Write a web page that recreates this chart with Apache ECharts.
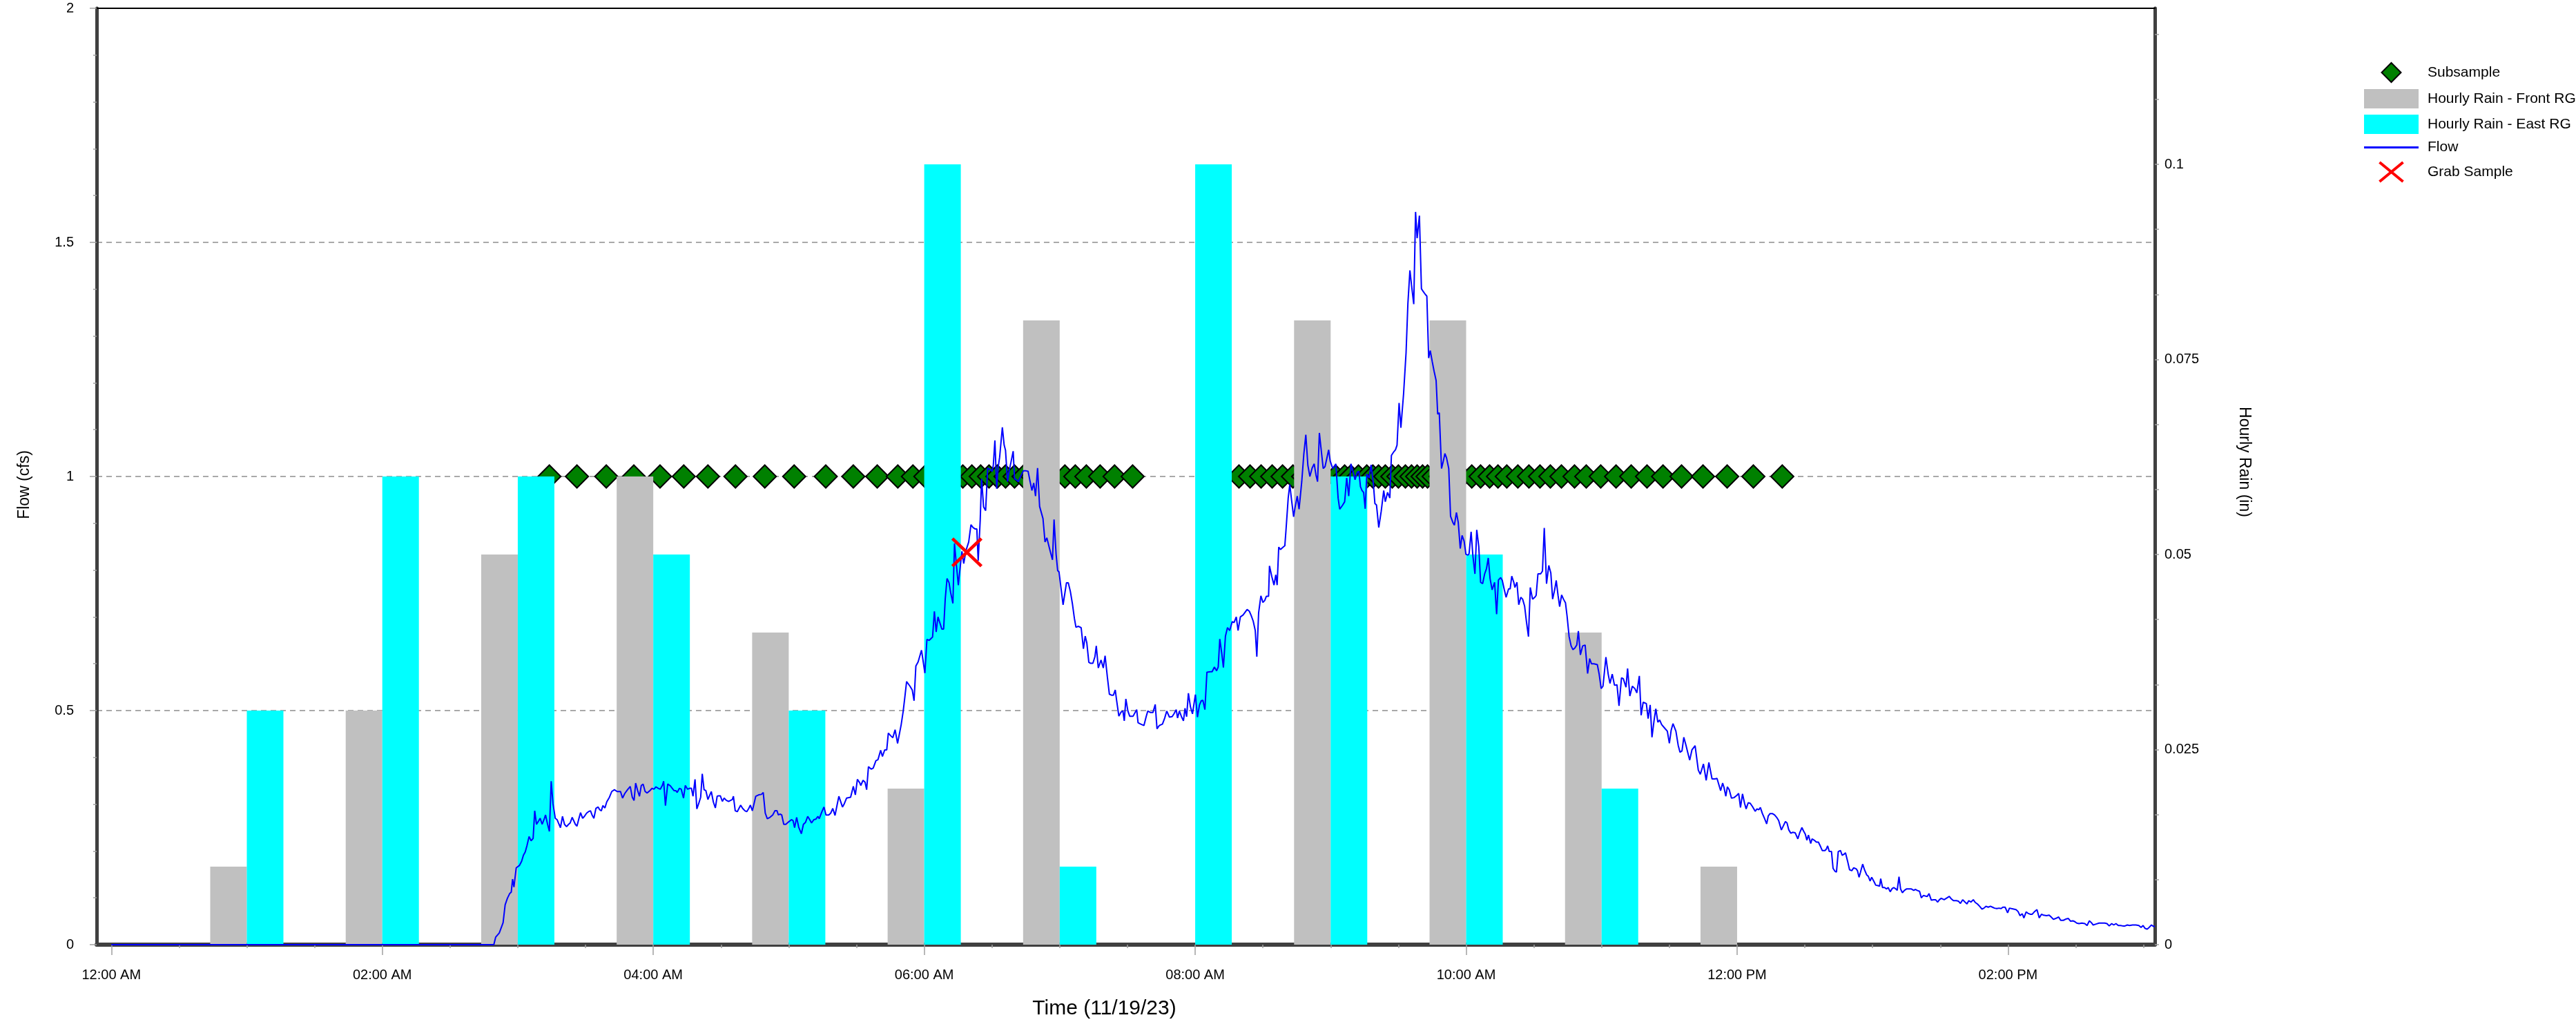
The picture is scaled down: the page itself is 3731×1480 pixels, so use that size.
<!DOCTYPE html>
<html>
<head>
<meta charset="utf-8">
<title>Flow and Hourly Rain - 11/19/23</title>
<script src="https://cdn.jsdelivr.net/npm/echarts@6/dist/echarts.min.js"></script>
<style>
    html, body { margin: 0; padding: 0; background: #ffffff; }
    #flowChart { width: 3731px; height: 1480px; }
</style>
</head>
<body>
<div id="flowChart"></div>
<script>
// hourly rain (in), one value per clock hour
var rainHours = [1, 2, 3, 4, 5, 6, 7, 8, 9, 10, 11, 12];
var rainFront = [0.01, 0.03, 0.05, 0.06, 0.04, 0.02, 0.08, 0, 0.08, 0.08, 0.04, 0.01];
var rainEast = [0.03, 0.06, 0.06, 0.05, 0.03, 0.1, 0.01, 0.1, 0.06, 0.05, 0.02, 0];

// subsample times, minutes after midnight (plotted on the 1 cfs line)
var subsampleLevel = 1;
var subsampleMinutes = [194.0, 206.2, 219.2, 231.4, 243.0, 253.5, 264.2, 276.4, 289.4, 302.4, 316.4, 328.6,
    339.2, 348.3, 355.0, 360.5, 366.1, 371.6, 377.1, 381.1, 385.0, 388.7, 392.4, 396.0, 400.0, 404.0, 408.0,
    411.9, 415.9, 422.3, 426.9, 431.8, 437.9, 444.3, 452.3, 499.4, 504.3, 509.2, 514.1, 518.7, 523.3, 527.8,
    532.4, 537.0, 542.2, 546.2, 548.9, 552.3, 556.0, 558.7, 561.2, 564.2, 567.3, 570.0, 573.1, 575.8, 578.3,
    580.7, 582.9, 585.6, 588.7, 591.7, 594.8, 597.9, 602.5, 606.4, 610.4, 614.1, 618.0, 622.9, 627.8, 632.7,
    637.3, 642.2, 648.0, 653.2, 659.6, 666.4, 673.1, 680.1, 687.2, 695.4, 704.9, 715.6, 727.2, 740.0];

// grab sample [minutes, cfs]
var grabSamples = [[378.9, 0.838]];

// flow record [minutes after midnight, cfs]
var flowPoints = [
    [0, 0], [169.4, 0],
    [170.2, 0.016], [171.8, 0.025], [173.5, 0.047], [174.4, 0.085], [175.4, 0.099], [176.4, 0.109], [177.1, 0.112],
    [177.7, 0.140], [178.3, 0.123], [179.3, 0.164], [180.7, 0.169], [181.7, 0.178], [182.5, 0.191], [183.3, 0.198],
    [184.1, 0.212], [185.0, 0.231], [185.9, 0.222], [186.8, 0.227], [187.5, 0.286], [188.3, 0.257], [189.2, 0.264],
    [189.9, 0.270], [190.8, 0.257], [191.6, 0.267], [192.3, 0.277], [193.2, 0.257], [194.0, 0.242], [194.8, 0.349],
    [195.6, 0.301], [196.6, 0.270], [197.4, 0.267], [198.0, 0.260], [198.9, 0.250], [199.8, 0.274], [200.7, 0.257],
    [201.6, 0.252], [202.5, 0.257], [203.2, 0.260], [204.1, 0.272], [204.7, 0.274], [205.5, 0.257], [206.2, 0.253],
    [207.1, 0.270], [207.8, 0.282], [208.7, 0.270], [209.5, 0.274], [210.5, 0.281], [211.3, 0.284], [212.2, 0.286],
    [212.9, 0.277], [213.7, 0.270], [214.6, 0.291], [215.6, 0.294], [216.3, 0.288], [217.0, 0.286], [217.7, 0.297],
    [218.6, 0.292], [219.4, 0.305], [220.6, 0.315], [221.6, 0.327], [222.8, 0.331], [224.0, 0.327], [225.5, 0.327],
    [226.4, 0.313], [227.4, 0.323], [228.6, 0.331], [229.8, 0.338], [230.7, 0.315], [231.5, 0.308], [232.2, 0.345],
    [233.1, 0.329], [233.9, 0.317], [234.7, 0.340], [235.5, 0.343], [236.4, 0.327], [237.3, 0.324], [238.5, 0.329],
    [239.5, 0.334], [240.3, 0.332], [241.2, 0.337], [242.2, 0.334], [243.1, 0.332], [244.0, 0.340], [244.6, 0.349],
    [245.4, 0.297], [246.4, 0.343], [247.6, 0.339], [248.4, 0.334], [249.2, 0.329], [250.0, 0.329], [250.6, 0.325],
    [251.6, 0.334], [252.4, 0.332], [253.4, 0.313], [254.2, 0.340], [255.2, 0.332], [256.1, 0.334], [256.9, 0.334],
    [257.6, 0.317], [258.5, 0.353], [259.3, 0.290], [260.1, 0.301], [261.0, 0.315], [261.7, 0.365], [262.5, 0.331],
    [263.3, 0.329], [264.2, 0.310], [264.9, 0.318], [265.7, 0.327], [266.6, 0.305], [267.5, 0.292], [268.3, 0.317],
    [269.0, 0.318], [269.7, 0.318], [270.6, 0.306], [271.4, 0.313], [272.4, 0.308], [273.4, 0.306], [274.2, 0.308],
    [275.0, 0.310], [275.5, 0.317], [276.3, 0.286], [277.2, 0.284], [278.7, 0.298], [279.6, 0.291], [280.6, 0.286],
    [281.4, 0.284], [282.3, 0.291], [283.0, 0.298], [283.9, 0.286], [284.5, 0.288], [285.4, 0.317], [286.7, 0.320],
    [287.9, 0.321], [288.7, 0.325], [289.6, 0.281], [290.5, 0.269], [291.7, 0.272], [292.9, 0.277], [293.9, 0.286],
    [294.8, 0.286], [295.4, 0.277], [296.2, 0.279], [296.9, 0.277], [297.8, 0.257], [298.7, 0.257], [299.9, 0.262],
    [301.2, 0.267], [301.9, 0.265], [302.6, 0.250], [303.5, 0.272], [304.4, 0.251], [305.6, 0.237], [306.5, 0.257],
    [307.4, 0.261], [308.4, 0.274], [309.3, 0.267], [310.1, 0.260], [311.1, 0.267], [312.0, 0.268], [312.9, 0.274],
    [313.5, 0.269], [314.7, 0.284], [315.6, 0.294], [316.5, 0.277], [317.7, 0.277], [318.6, 0.281], [319.5, 0.291],
    [320.5, 0.276], [321.4, 0.298], [322.2, 0.317], [323.8, 0.294], [324.6, 0.301], [325.6, 0.313], [327.4, 0.315],
    [328.6, 0.338], [329.5, 0.320], [330.4, 0.353], [331.4, 0.346], [331.9, 0.340], [332.9, 0.351], [333.8, 0.347],
    [334.5, 0.331], [335.3, 0.380], [336.5, 0.375], [337.4, 0.377], [338.6, 0.393], [339.5, 0.395], [340.7, 0.415],
    [341.5, 0.402], [342.5, 0.416], [343.4, 0.416], [344.1, 0.452], [345.2, 0.446], [346.1, 0.442], [347.1, 0.459],
    [348.2, 0.430], [349.8, 0.470], [350.7, 0.499], [351.4, 0.528], [352.2, 0.562], [353.7, 0.552], [354.7, 0.544],
    [355.5, 0.521], [356.3, 0.595], [357.3, 0.604], [358.8, 0.629], [360.3, 0.580], [361.2, 0.652], [362.2, 0.650],
    [363.7, 0.657], [364.5, 0.712], [365.3, 0.668], [366.1, 0.700], [367.8, 0.674], [368.6, 0.674], [369.3, 0.738],
    [370.1, 0.782], [371.0, 0.773], [371.7, 0.752], [372.7, 0.729], [373.4, 0.857], [374.2, 0.814], [375.1, 0.768],
    [376.1, 0.814], [376.7, 0.840], [377.5, 0.814], [378.5, 0.842], [379.7, 0.860], [380.7, 0.897], [381.6, 0.891],
    [382.5, 0.888], [383.3, 0.888], [383.9, 0.820], [384.8, 0.907], [385.4, 0.995], [386.3, 0.935], [387.2, 0.927],
    [388.1, 1.018], [389.1, 1.015], [390.1, 1.011], [390.6, 1.024], [391.3, 1.077], [392.1, 0.974], [392.7, 1.018],
    [393.4, 1.041], [394.6, 1.105], [395.4, 1.067], [396.0, 1.056], [396.9, 0.989], [397.6, 1.012], [398.4, 1.030],
    [399.4, 1.054], [400.0, 0.995], [400.8, 0.993], [401.7, 0.989], [402.7, 1.000], [403.9, 1.012], [405.1, 1.012],
    [406.0, 1.011], [406.9, 0.989], [407.7, 0.970], [408.5, 0.986], [409.3, 0.958], [410.2, 1.018], [411.1, 0.936],
    [412.6, 0.910], [413.5, 0.860], [414.3, 0.869], [415.5, 0.846], [416.8, 0.822], [417.5, 0.908], [418.4, 0.834],
    [419.1, 0.799], [419.7, 0.796], [420.6, 0.761], [421.5, 0.726], [423.0, 0.773], [423.8, 0.773], [424.7, 0.755],
    [425.6, 0.729], [426.5, 0.697], [427.2, 0.678], [428.2, 0.680], [429.5, 0.677], [430.5, 0.632], [431.3, 0.659],
    [432.0, 0.645], [432.9, 0.603], [433.7, 0.601], [434.7, 0.601], [435.6, 0.615], [436.2, 0.638], [437.1, 0.591],
    [438.3, 0.608], [439.3, 0.591], [440.1, 0.617], [441.1, 0.572], [442.0, 0.535], [442.9, 0.533], [443.8, 0.533],
    [444.6, 0.544], [445.2, 0.522], [446.2, 0.488], [447.2, 0.497], [448.0, 0.499], [448.6, 0.478], [449.3, 0.525],
    [450.2, 0.499], [451.0, 0.488], [452.5, 0.488], [453.4, 0.496], [454.1, 0.502], [454.7, 0.474], [455.9, 0.471],
    [457.3, 0.468], [458.3, 0.487], [459.0, 0.499], [460.1, 0.496], [461.3, 0.496], [462.3, 0.513], [463.1, 0.461],
    [464.1, 0.468], [465.5, 0.471], [466.5, 0.484], [467.4, 0.499], [468.6, 0.486], [469.8, 0.487], [470.6, 0.493],
    [471.6, 0.502], [472.2, 0.484], [473.0, 0.499], [474.0, 0.486], [474.8, 0.478], [475.5, 0.505], [476.2, 0.487],
    [477.0, 0.537], [477.9, 0.508], [478.8, 0.493], [480.1, 0.534], [481.0, 0.486], [481.9, 0.512], [482.7, 0.521],
    [483.4, 0.522], [484.3, 0.502], [485.2, 0.582], [486.7, 0.583], [487.5, 0.583], [488.5, 0.593], [489.5, 0.585],
    [490.2, 0.593], [490.9, 0.653], [491.8, 0.621], [492.5, 0.592], [493.4, 0.659], [494.3, 0.677], [495.3, 0.671],
    [496.4, 0.690], [497.2, 0.688], [498.2, 0.700], [499.0, 0.671], [500.0, 0.700], [501.2, 0.704], [502.1, 0.710],
    [503.0, 0.716], [504.0, 0.712], [504.8, 0.703], [505.7, 0.691], [506.6, 0.671], [507.3, 0.615], [508.1, 0.709],
    [509.1, 0.745], [510.0, 0.731], [510.8, 0.735], [511.5, 0.744], [512.5, 0.744], [512.9, 0.809], [513.9, 0.787],
    [514.9, 0.768], [515.7, 0.790], [516.3, 0.768], [517.0, 0.849], [517.8, 0.844], [518.7, 0.848], [519.7, 0.852],
    [520.2, 0.884], [521.2, 0.954], [521.9, 0.983], [522.7, 0.949], [523.6, 0.914], [524.2, 0.933], [525.2, 0.958],
    [526.0, 0.930], [527.2, 0.989], [528.1, 1.047], [529.0, 1.089], [529.9, 1.024], [530.8, 1.000], [531.8, 1.018],
    [532.7, 1.027], [533.5, 1.003], [534.2, 0.989], [535.0, 1.093], [535.8, 1.057], [536.7, 1.017], [537.5, 1.021],
    [538.4, 1.041], [539.1, 1.057], [539.8, 1.033], [540.9, 1.017], [542.3, 1.027], [543.3, 0.954], [544.0, 0.930],
    [545.2, 0.938], [546.2, 0.946], [547.1, 0.997], [548.0, 0.958], [549.0, 1.027], [550.0, 1.009], [550.8, 0.993],
    [551.8, 1.009], [552.5, 1.011], [553.2, 0.978], [553.9, 0.970], [554.6, 0.966], [555.3, 0.931], [556.0, 1.005],
    [557.0, 0.997], [557.9, 1.025], [558.9, 0.985], [559.6, 0.942], [560.3, 0.939], [561.3, 0.891], [562.4, 0.926],
    [563.5, 0.970], [564.2, 0.946], [565.2, 0.966], [566.2, 0.954], [566.9, 1.045], [568.0, 1.053], [568.7, 1.057],
    [569.4, 1.067], [570.3, 1.157], [571.1, 1.104], [572.3, 1.177], [573.4, 1.265], [574.2, 1.369], [575.1, 1.440],
    [575.8, 1.409], [576.8, 1.368], [577.6, 1.565], [578.3, 1.509], [579.3, 1.557], [580.2, 1.401], [581.0, 1.395],
    [581.9, 1.389], [582.6, 1.385], [583.4, 1.253], [584.1, 1.269], [585.0, 1.245], [585.8, 1.225], [586.7, 1.205],
    [587.4, 1.133], [588.1, 1.136], [589.1, 1.017], [589.9, 1.033], [590.6, 1.049], [591.3, 1.040], [592.3, 1.017],
    [593.1, 0.915], [594.1, 0.902], [594.8, 0.896], [595.7, 0.923], [596.5, 0.902], [597.4, 0.846], [598.2, 0.874],
    [599.1, 0.862], [599.9, 0.834], [600.8, 0.832], [601.3, 0.835], [602.2, 0.882], [603.0, 0.830], [603.9, 0.792],
    [604.7, 0.886], [605.6, 0.850], [606.4, 0.774], [607.3, 0.771], [608.2, 0.792], [609.0, 0.803], [609.8, 0.826],
    [610.6, 0.782], [611.5, 0.758], [612.6, 0.774], [613.5, 0.706], [614.3, 0.779], [615.3, 0.784], [616.0, 0.778],
    [616.9, 0.758], [617.7, 0.742], [618.8, 0.760], [619.5, 0.760], [620.2, 0.787], [621.1, 0.774], [621.6, 0.763],
    [622.5, 0.774], [623.3, 0.726], [624.2, 0.742], [625.0, 0.738], [625.9, 0.723], [626.7, 0.690], [627.6, 0.658],
    [628.4, 0.763], [629.4, 0.738], [630.4, 0.742], [631.0, 0.746], [631.8, 0.792], [633.0, 0.792], [633.8, 0.798],
    [634.6, 0.890], [635.6, 0.771], [636.6, 0.810], [637.5, 0.794], [638.3, 0.738], [639.2, 0.758], [639.9, 0.778],
    [640.7, 0.746], [641.4, 0.722], [642.3, 0.747], [643.1, 0.738], [644.0, 0.730], [644.7, 0.702], [645.6, 0.658],
    [646.5, 0.638], [647.3, 0.630], [648.2, 0.634], [649.0, 0.640], [649.7, 0.670], [650.6, 0.619], [651.6, 0.638],
    [652.7, 0.640], [653.3, 0.640], [653.8, 0.579], [654.7, 0.611], [655.5, 0.600], [656.6, 0.600], [658.1, 0.598],
    [658.9, 0.578], [659.8, 0.547], [660.6, 0.552], [661.9, 0.614], [662.9, 0.578], [663.7, 0.558], [664.7, 0.578],
    [665.7, 0.554], [666.8, 0.555], [667.7, 0.510], [668.8, 0.570], [669.6, 0.568], [670.8, 0.550], [671.5, 0.590],
    [672.5, 0.531], [673.6, 0.552], [674.7, 0.547], [675.6, 0.538], [676.7, 0.574], [677.5, 0.490], [678.4, 0.518],
    [679.8, 0.515], [680.6, 0.483], [681.5, 0.512], [682.3, 0.443], [683.2, 0.478], [684.0, 0.504], [684.9, 0.475],
    [685.7, 0.480], [686.6, 0.470], [688.0, 0.462], [689.1, 0.456], [690.0, 0.430], [690.8, 0.458], [691.6, 0.472],
    [692.9, 0.456], [693.9, 0.426], [694.7, 0.411], [695.6, 0.414], [696.4, 0.443], [697.3, 0.427], [698.1, 0.411],
    [699.0, 0.394], [700.0, 0.416], [701.4, 0.425], [702.8, 0.373], [703.7, 0.364], [705.1, 0.386], [706.3, 0.351],
    [707.5, 0.389], [708.9, 0.354], [710.2, 0.354], [711.1, 0.355], [711.7, 0.355], [712.7, 0.329], [713.6, 0.345],
    [714.2, 0.336], [715.0, 0.317], [715.7, 0.337], [716.5, 0.331], [717.5, 0.313], [718.6, 0.314], [719.9, 0.319],
    [720.7, 0.323], [721.5, 0.293], [722.4, 0.322], [723.3, 0.302], [724.0, 0.290], [724.9, 0.303], [725.8, 0.302],
    [726.8, 0.295], [728.0, 0.285], [728.8, 0.290], [729.6, 0.288], [730.3, 0.293], [731.2, 0.280], [732.1, 0.270],
    [733.1, 0.258], [733.8, 0.275], [734.6, 0.280], [735.6, 0.280], [736.6, 0.277], [737.5, 0.272], [738.4, 0.265],
    [738.9, 0.263], [739.6, 0.245], [740.6, 0.255], [741.4, 0.263], [742.1, 0.260], [742.9, 0.245], [743.8, 0.238],
    [744.6, 0.240], [745.7, 0.239], [746.3, 0.239], [746.9, 0.226], [747.8, 0.240], [748.7, 0.250], [749.4, 0.243],
    [750.2, 0.236], [750.9, 0.223], [751.6, 0.234], [752.6, 0.216], [753.2, 0.226], [754.2, 0.223], [755.1, 0.219],
    [756.0, 0.219], [757.0, 0.209], [757.7, 0.201], [758.9, 0.201], [759.5, 0.204], [760.1, 0.211], [760.8, 0.199],
    [761.8, 0.199], [762.5, 0.163], [763.3, 0.157], [764.0, 0.155], [764.8, 0.199], [765.8, 0.201], [766.5, 0.191],
    [767.3, 0.193], [768.0, 0.196], [768.9, 0.179], [769.8, 0.160], [770.8, 0.158], [771.6, 0.164], [772.7, 0.162],
    [773.3, 0.158], [774.0, 0.144], [774.6, 0.154], [775.6, 0.172], [776.5, 0.159], [777.4, 0.149], [778.1, 0.146],
    [778.9, 0.136], [779.6, 0.144], [780.6, 0.135], [781.4, 0.127], [782.4, 0.126], [783.1, 0.125], [783.6, 0.141],
    [784.4, 0.122], [785.3, 0.122], [786.2, 0.119], [786.9, 0.122], [787.8, 0.113], [788.7, 0.120], [789.4, 0.122],
    [790.3, 0.119], [790.9, 0.116], [791.7, 0.145], [792.4, 0.119], [793.2, 0.111], [794.1, 0.116], [795.0, 0.119],
    [796.2, 0.119], [797.2, 0.119], [798.2, 0.116], [799.0, 0.118], [799.7, 0.116], [800.8, 0.114], [801.6, 0.100],
    [802.5, 0.105], [803.3, 0.104], [804.2, 0.103], [805.0, 0.109], [806.0, 0.095], [807.0, 0.096], [807.9, 0.096],
    [808.8, 0.091], [809.6, 0.096], [810.4, 0.099], [811.7, 0.096], [813.0, 0.100], [814.0, 0.103], [814.8, 0.098],
    [815.8, 0.094], [817.1, 0.094], [818.0, 0.093], [818.9, 0.088], [819.9, 0.096], [820.9, 0.091], [821.8, 0.087],
    [822.6, 0.094], [823.6, 0.091], [824.6, 0.096], [825.5, 0.090], [826.4, 0.087], [827.4, 0.082], [828.4, 0.076],
    [829.3, 0.078], [830.2, 0.082], [831.2, 0.080], [832.2, 0.082], [833.1, 0.080], [834.0, 0.078], [835.0, 0.077],
    [836.0, 0.078], [836.9, 0.077], [837.7, 0.080], [838.7, 0.080], [839.8, 0.068], [840.6, 0.078], [841.5, 0.077],
    [842.5, 0.076], [843.5, 0.075], [844.4, 0.071], [845.3, 0.062], [846.3, 0.066], [847.0, 0.057], [848.0, 0.070],
    [848.8, 0.067], [849.8, 0.065], [850.7, 0.065], [851.6, 0.070], [852.8, 0.075], [853.8, 0.057], [854.8, 0.065],
    [855.7, 0.063], [857.0, 0.062], [858.2, 0.063], [859.1, 0.059], [860.1, 0.054], [861.1, 0.056], [862.4, 0.059],
    [863.3, 0.052], [864.5, 0.052], [865.8, 0.055], [866.7, 0.056], [867.7, 0.050], [868.7, 0.051], [869.6, 0.049],
    [870.4, 0.046], [871.4, 0.045], [872.7, 0.046], [874.0, 0.045], [875.0, 0.041], [876.0, 0.051], [876.9, 0.047],
    [877.7, 0.042], [879.0, 0.044], [880.3, 0.046], [881.5, 0.046], [882.8, 0.046], [883.8, 0.045], [884.8, 0.040],
    [885.9, 0.045], [886.8, 0.042], [887.8, 0.045], [888.8, 0.041], [889.8, 0.041], [890.8, 0.040], [891.8, 0.040],
    [892.8, 0.042], [893.8, 0.041], [895.1, 0.042], [896.6, 0.042], [897.9, 0.041], [898.9, 0.037], [899.8, 0.041],
    [900.6, 0.035], [901.6, 0.033], [902.5, 0.037], [903.5, 0.042], [904.4, 0.039], [905.0, 0.039]
];

// axis ticks
var xLabelMinutes = [0, 120, 240, 360, 480, 600, 720, 840];
var xMinorMinutes = [];
for (var m = 0; m <= 900; m += 30) {
    xMinorMinutes.push(m);
}
var rainLabelValues = [0, 0.025, 0.05, 0.075, 0.1];
var rainTickValues = [];
for (var k = 0; k <= 14; k++) {
    rainTickValues.push(k * 0.025 / 3);
}

(function () {
    var fontName = 'Liberation Sans, Arial, Helvetica, sans-serif';
    var tickColor = '#a0a0a0';
    var axisColor = '#404040';

    var clockLabel = function (minutes) {
        var h = Math.floor(minutes / 60);
        var mm = Math.round(minutes % 60);
        var hh = h % 12 === 0 ? 12 : h % 12;
        return (hh < 10 ? '0' + hh : hh) + ':' + (mm < 10 ? '0' + mm : mm) + ' ' + (h < 12 ? 'AM' : 'PM');
    };

    var chartInstance = echarts.init(document.getElementById('flowChart'), null, { renderer: 'canvas' });

    chartInstance.setOption({
        animation: false,
        backgroundColor: '#ffffff',
        grid: {
            left: 140,
            right: 610,
            top: 12,
            bottom: 112,
            containLabel: false,
            outerBoundsMode: 'none'
        },
        legend: {
            orient: 'vertical',
            left: 3419,
            top: 85,
            itemWidth: 79,
            itemHeight: 28,
            itemGap: 9,
            selectedMode: false,
            textStyle: { fontSize: 21, color: '#000', fontFamily: fontName, padding: [0, 0, 0, 8] },
            data: [
                { name: 'Subsample', icon: 'path://M14,0L28,14L14,28L0,14Z', symbolKeepAspect: true },
                { name: 'Hourly Rain - Front RG', icon: 'rect', symbolKeepAspect: false },
                { name: 'Hourly Rain - East RG', icon: 'rect', symbolKeepAspect: false },
                { name: 'Flow', icon: 'path://M0,0L79,0L79,3L0,3Z', symbolKeepAspect: true },
                { name: 'Grab Sample', icon: 'path://M0,0L45,37M45,0L0,37', symbolKeepAspect: true, itemStyle: { borderWidth: 4 } }
            ]
        },
        xAxis: [
            {
                type: 'value',
                min: -6.5,
                max: 905,
                position: 'bottom',
                axisLine: { show: true, onZero: false, lineStyle: { color: axisColor, width: 6 } },
                axisTick: { show: true, customValues: xLabelMinutes, length: 15, lineStyle: { color: tickColor, width: 1.5 } },
                axisLabel: {
                    customValues: xLabelMinutes,
                    formatter: clockLabel,
                    margin: 34,
                    fontSize: 20,
                    color: '#000',
                    fontFamily: fontName
                },
                splitLine: { show: false },
                name: 'Time (11/19/23)',
                nameLocation: 'middle',
                nameGap: 78,
                nameTextStyle: { fontSize: 30, color: '#000', fontFamily: fontName, padding: [0, 62, 0, 0] }
            },
            {
                // half-hour minor ticks
                type: 'value',
                min: -6.5,
                max: 905,
                position: 'bottom',
                axisLine: { show: false, onZero: false },
                axisTick: { show: true, customValues: xMinorMinutes, length: 5, lineStyle: { color: tickColor, width: 1.5 } },
                axisLabel: { show: false },
                splitLine: { show: false }
            },
            {
                // thin frame line on top
                type: 'value',
                min: -6.5,
                max: 905,
                position: 'top',
                axisLine: { show: true, onZero: false, lineStyle: { color: '#000', width: 2 } },
                axisTick: { show: false },
                axisLabel: { show: false },
                splitLine: { show: false }
            }
        ],
        yAxis: [
            {
                type: 'value',
                min: 0,
                max: 2,
                interval: 0.5,
                position: 'left',
                axisLine: { show: true, onZero: false, lineStyle: { color: axisColor, width: 5 } },
                axisTick: { show: true, length: 10, lineStyle: { color: tickColor, width: 1.5 } },
                minorTick: { show: true, splitNumber: 5, length: 5, lineStyle: { color: tickColor, width: 1.5 } },
                axisLabel: { margin: 33, fontSize: 20, color: '#000', fontFamily: fontName },
                splitLine: { show: true, lineStyle: { color: '#a9a9a9', width: 2, type: [8, 6] } },
                name: 'Flow (cfs)',
                nameLocation: 'middle',
                nameGap: 93,
                nameRotate: 90,
                nameTextStyle: { fontSize: 23, color: '#000', fontFamily: fontName, padding: [0, 24, 0, 0] }
            },
            {
                type: 'value',
                min: 0,
                max: 0.12,
                position: 'right',
                axisLine: { show: true, onZero: false, lineStyle: { color: axisColor, width: 5 } },
                axisTick: { show: true, customValues: rainTickValues, length: 6, lineStyle: { color: tickColor, width: 1.5 } },
                axisLabel: { customValues: rainLabelValues, margin: 14, fontSize: 20, color: '#000', fontFamily: fontName },
                splitLine: { show: false },
                name: 'Hourly Rain (in)',
                nameLocation: 'middle',
                nameGap: 118,
                nameRotate: -90,
                nameTextStyle: { fontSize: 23, color: '#000', fontFamily: fontName, padding: [0, 42, 0, 0] }
            }
        ],
        series: [
            {
                name: 'Subsample',
                type: 'scatter',
                xAxisIndex: 0,
                yAxisIndex: 0,
                data: subsampleMinutes.map(function (t) { return [t, subsampleLevel]; }),
                symbol: 'diamond',
                symbolSize: 33,
                symbolKeepAspect: true,
                itemStyle: { color: '#008000', borderColor: '#000', borderWidth: 2, opacity: 1 },
                z: 2,
                silent: true
            },
            {
                name: 'Hourly Rain - Front RG',
                type: 'bar',
                xAxisIndex: 0,
                yAxisIndex: 1,
                data: rainHours.map(function (h, i) { return [h * 60, rainFront[i]]; }),
                barWidth: 53,
                barGap: '0%',
                itemStyle: { color: '#c0c0c0' },
                z: 3,
                silent: true
            },
            {
                name: 'Hourly Rain - East RG',
                type: 'bar',
                xAxisIndex: 0,
                yAxisIndex: 1,
                data: rainHours.map(function (h, i) { return [h * 60, rainEast[i]]; }),
                barWidth: 53,
                barGap: '0%',
                itemStyle: { color: '#00ffff' },
                z: 3,
                silent: true
            },
            {
                name: 'Flow',
                type: 'line',
                xAxisIndex: 0,
                yAxisIndex: 0,
                data: flowPoints,
                symbol: 'none',
                showSymbol: false,
                lineStyle: { color: '#0000ff', width: 2 },
                itemStyle: { color: '#0000ff' },
                z: 4,
                silent: true
            },
            {
                name: 'Grab Sample',
                type: 'scatter',
                xAxisIndex: 0,
                yAxisIndex: 0,
                data: grabSamples,
                symbol: 'path://M0,0L40,38M40,0L0,38',
                symbolSize: [42, 40],
                itemStyle: { color: '#ff0000', borderColor: '#ff0000', borderWidth: 4.5, opacity: 1 },
                z: 5,
                silent: true
            }
        ]
    });
})();
</script>
</body>
</html>
